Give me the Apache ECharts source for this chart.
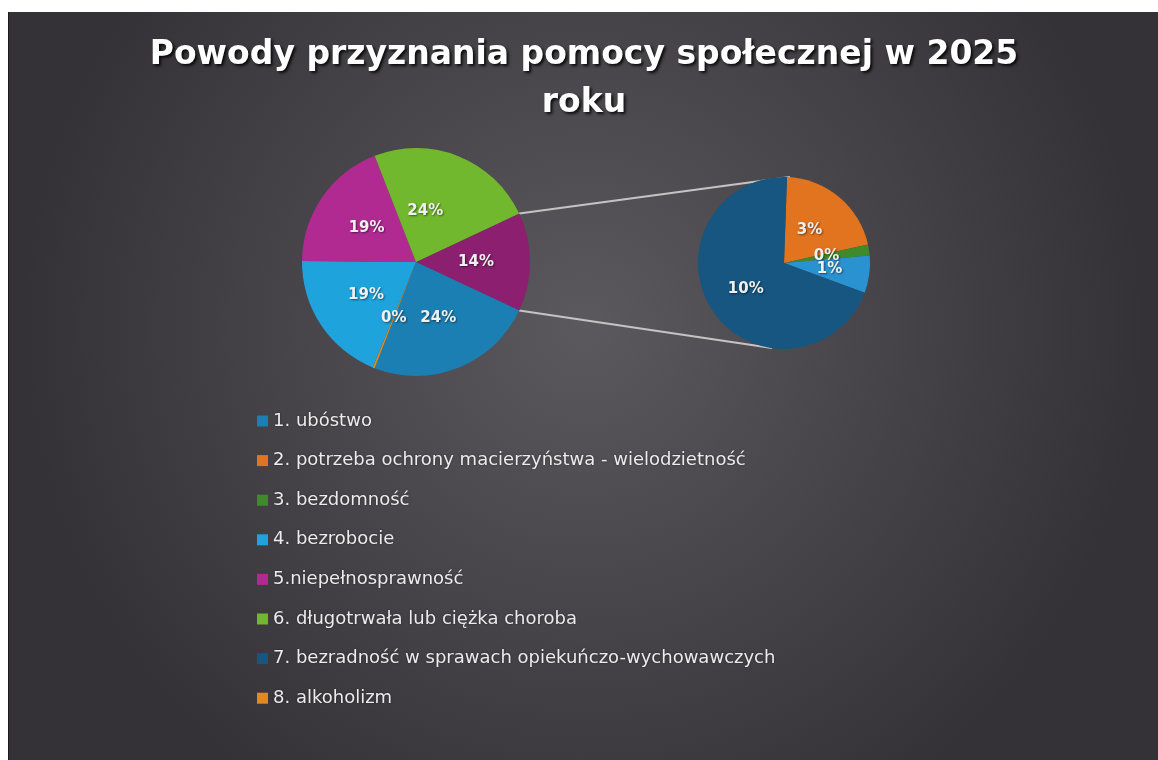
<!DOCTYPE html>
<html>
<head>
<meta charset="utf-8">
<script src="https://cdn.jsdelivr.net/npm/echarts@6/dist/echarts.min.js"></script>
<style>
  html, body { margin: 0; padding: 0; background: #ffffff; }
  #chart { position: absolute; left: 8px; top: 12px; width: 1150px; height: 748px; border-left: 1px solid #1e1a1e; }
</style>
</head>
<body>
<div id="chart"></div>
<script>
// legend entries
const categories = [
  '1. ubóstwo',
  '2. potrzeba ochrony macierzyństwa - wielodzietność',
  '3. bezdomność',
  '4. bezrobocie',
  '5.niepełnosprawność',
  '6. długotrwała lub ciężka choroba',
  '7. bezradność w sprawach opiekuńczo-wychowawczych',
  '8. alkoholizm'
];

// first pie (the "other" slice goes first, centred on the right)
const mainNames = ['pozostałe', '1. ubóstwo', '8. alkoholizm', '4. bezrobocie', '5.niepełnosprawność', '6. długotrwała lub ciężka choroba'];
const mainValues = [14, 24, 0.3, 19, 19, 24];
const mainColors = ['#8c1f70', '#1b7fb4', '#e08a1e', '#1ea3dc', '#b12a92', '#72b82e'];

// second pie (breakdown of "pozostałe")
const subNames = ['2. potrzeba ochrony macierzyństwa - wielodzietność', '3. bezdomność', 'inne', '7. bezradność w sprawach opiekuńczo-wychowawczych'];
const subValues = [3, 0.3, 1, 10];
const subColors = ['#e2731f', '#3f8b2c', '#2a92d0', '#165680'];

const mainC = [407, 250], mainR = 114;
const subC = [775, 251], subR = 86;

var chart = echarts.init(document.getElementById('chart'));

function pct(p) {
  return Math.round(p.value) + '%';
}

const labelStyle = {
  show: true,
  position: 'inside',
  formatter: pct,
  color: '#f0f0f0',
  fontSize: 15,
  fontWeight: 'bold',
  fontFamily: 'DejaVu Sans, sans-serif',
  textShadowColor: 'rgba(0,0,0,0.5)',
  textShadowBlur: 2,
  textShadowOffsetX: 1,
  textShadowOffsetY: 1
};

// half of the "other" slice angle, so it sits centred at 3 o'clock
const mainTotal = mainValues.reduce((a, b) => a + b, 0);
const half = mainValues[0] / mainTotal * 180;
const a = half * Math.PI / 180;
const p1 = [mainC[0] + mainR * Math.cos(a), mainC[1] - mainR * Math.sin(a)];
const p2 = [mainC[0] + mainR * Math.cos(a), mainC[1] + mainR * Math.sin(a)];

var option = {
  backgroundColor: {
    type: 'radial', x: 0.5, y: 0.42, r: 0.75,
    colorStops: [
      { offset: 0, color: '#5b595d' },
      { offset: 1, color: '#343236' }
    ]
  },
  title: {
    text: 'Powody przyznania pomocy społecznej w 2025\nroku',
    left: 'center',
    top: 14,
    textStyle: {
      color: '#ffffff',
      fontSize: 33,
      fontWeight: 'bold',
      fontFamily: 'DejaVu Sans, sans-serif',
      lineHeight: 48,
      textShadowColor: 'rgba(0,0,0,0.85)',
      textShadowBlur: 3,
      textShadowOffsetX: 2,
      textShadowOffsetY: 2
    }
  },
  legend: {
    data: categories,
    orient: 'vertical',
    left: 243,
    top: 395,
    icon: 'rect',
    itemWidth: 11,
    itemHeight: 11,
    itemGap: 21.6,
    selectedMode: false,
    textStyle: {
      color: '#ececec',
      fontSize: 18,
      fontFamily: 'DejaVu Sans, sans-serif',
      textShadowColor: 'rgba(0,0,0,0.5)',
      textShadowBlur: 2
    }
  },
  graphic: [
    { type: 'line', shape: { x1: p1[0], y1: p1[1], x2: subC[0] + 6, y2: subC[1] - subR }, style: { stroke: '#c4c4c4', lineWidth: 2 } },
    { type: 'line', shape: { x1: p2[0], y1: p2[1], x2: subC[0] - 12, y2: subC[1] + subR - 1 }, style: { stroke: '#c4c4c4', lineWidth: 2 } }
  ],
  series: [
    {
      type: 'pie',
      center: mainC,
      radius: mainR,
      startAngle: half,
      clockwise: true,
      silent: true,
      avoidLabelOverlap: false,
      label: labelStyle,
      labelLine: { show: false },
      labelLayout: function (p) {
        // Excel's best-fit puts the green label a bit further left
        if (p.dataIndex === 5) return { hideOverlap: false, dx: -13, dy: 5 };
        return { hideOverlap: false };
      },
      itemStyle: { borderWidth: 0 },
      data: mainNames.map((n, i) => ({ name: n, value: mainValues[i], itemStyle: { color: mainColors[i] } }))
    },
    {
      type: 'pie',
      center: subC,
      radius: subR,
      startAngle: 88,
      clockwise: true,
      silent: true,
      avoidLabelOverlap: false,
      label: labelStyle,
      labelLine: { show: false },
      labelLayout: function (p) {
        if (p.dataIndex === 0) return { hideOverlap: false, dx: -4, dy: 2 };
        if (p.dataIndex === 1) return { hideOverlap: false, dx: -3 };
        return { hideOverlap: false };
      },
      itemStyle: { borderWidth: 0 },
      data: subNames.map((n, i) => ({ name: n, value: subValues[i], itemStyle: { color: subColors[i] } }))
    }
  ]
};

chart.setOption(option);
</script>
</body>
</html>
